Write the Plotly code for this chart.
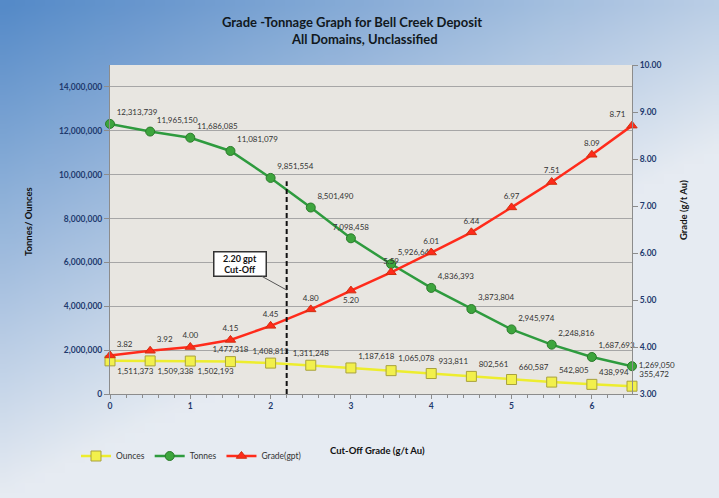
import base64
import struct
import zlib
import plotly.graph_objects as go

# ---------------- data ----------------
cutoff = [0, 0.5, 1, 1.5, 2, 2.5, 3, 3.5, 4, 4.5, 5, 5.5, 6, 6.5]
tonnes = [12313739, 11965150, 11686085, 11081079, 9851554, 8501490, 7098458,
          5926648, 4836393, 3873804, 2945974, 2248816, 1687693, 1269050]
ounces = [1511373, 1509338, 1502193, 1477318, 1408813, 1311248, 1187618,
          1065078, 933811, 802561, 660587, 542805, 438994, 355472]
grade = [3.82, 3.92, 4.00, 4.15, 4.45, 4.80, 5.20, 5.59, 6.01, 6.44, 6.97,
         7.51, 8.09, 8.71]
left_ticks = [0, 2000000, 4000000, 6000000, 8000000, 10000000, 12000000, 14000000]
right_ticks = [3, 4, 5, 6, 7, 8, 9, 10]
x_ticks = [0, 1, 2, 3, 4, 5, 6]
cutoff_value = 2.2
cutoff_line_top = 9700000
callout_y = 4740000

# ---------------- styling ----------------
W, H = 719, 498
ML, MR, MT, MB = 110, 87, 65, 104
PW, PH = W - ML - MR, H - MT - MB

def px_x(p):
    return (p - ML) / PW

def px_y(p):
    return (H - MB - p) / PH

def gradient_png(w, h):
    c0 = (85, 138, 200)
    c1 = (230, 235, 242)
    rows = []
    for j in range(h):
        row = bytearray([0])
        yn = j / (h - 1)
        for i in range(w):
            xn = i / (w - 1)
            t = min(1.0, 0.7 * xn + 1.0 * yn)
            row += bytes(int(round(c0[k] + (c1[k] - c0[k]) * t)) for k in range(3))
        rows.append(bytes(row))
    raw = b"".join(rows)

    def chunk(tag, data):
        return (struct.pack(">I", len(data)) + tag + data +
                struct.pack(">I", zlib.crc32(tag + data) & 0xffffffff))

    png = (b"\x89PNG\r\n\x1a\n" +
           chunk(b"IHDR", struct.pack(">IIBBBBB", w, h, 8, 2, 0, 0, 0)) +
           chunk(b"IDAT", zlib.compress(raw)) + chunk(b"IEND", b""))
    return "data:image/png;base64," + base64.b64encode(png).decode()

FONT = "Lato"
LABEL = dict(family=FONT, size=8, color="#333333")

tonnes_pos = ["top right"] * 14
tonnes_pos[6] = "top center"
tonnes_pos[13] = "middle right"
ounces_pos = (["bottom right"] * 3 + ["top center"] * 3 + ["top right"] * 8)
grade_pos = (["top right"] * 2 + ["top center"] * 4 + ["bottom center"] +
             ["top center"] * 6 + ["top left"])

fig = go.Figure()
fig.add_trace(go.Scatter(
    x=cutoff, y=ounces, name="Ounces", mode="lines+markers+text",
    text=[f"{v:,}" for v in ounces], textposition=ounces_pos, textfont=LABEL,
    line=dict(color="#EDED2E", width=2.5),
    marker=dict(symbol="square", size=10, color="#F2F04C",
                line=dict(color="#A9A23C", width=1)),
    cliponaxis=False))
fig.add_trace(go.Scatter(
    x=cutoff, y=tonnes, name="Tonnes", mode="lines+markers+text",
    text=[f"{v:,}" for v in tonnes], textposition=tonnes_pos, textfont=LABEL,
    line=dict(color="#2E9B3E", width=2.5),
    marker=dict(symbol="circle", size=9, color="#3DA53D",
                line=dict(color="#2A7A2A", width=1)),
    cliponaxis=False))
fig.add_trace(go.Scatter(
    x=cutoff, y=grade, name="Grade(gpt)", mode="lines+markers+text", yaxis="y2",
    text=[f"{v:.2f}" for v in grade], textposition=grade_pos, textfont=LABEL,
    line=dict(color="#FF2B1B", width=2.5),
    marker=dict(symbol="triangle-up", size=9, color="#FF2A1A",
                line=dict(color="#D03010", width=1)),
    cliponaxis=False))

tick_font = dict(family=FONT, size=8.5, color="#1F3A6E", weight="bold")

fig.update_layout(
    width=W, height=H, autosize=False,
    margin=dict(l=ML, r=MR, t=MT, b=MB),
    paper_bgcolor="#A9C0DE",
    plot_bgcolor="rgba(0,0,0,0)",
    showlegend=True,
    legend=dict(orientation="h", x=px_x(76), y=px_y(456), xanchor="left",
                yanchor="middle", bgcolor="rgba(0,0,0,0)",
                font=dict(family=FONT, size=8.5, color="#333333"),
                itemwidth=30, tracegroupgap=0,
                itemclick=False),
    xaxis=dict(range=[0, 6.5], tickvals=x_ticks, showgrid=False, zeroline=False,
               showline=True, linecolor="#8C8C8C", linewidth=1,
               ticks="outside", ticklen=4, tickcolor="#8C8C8C",
               minor=dict(dtick=0.2, ticks="outside", ticklen=3,
                          tickcolor="#8C8C8C", showgrid=False),
               tickfont=tick_font),
    yaxis=dict(range=[0, 15000000], tickvals=left_ticks, tickformat=",d",
               showgrid=True, gridcolor="#A6A6A6", gridwidth=1, zeroline=False,
               showline=True, linecolor="#8C8C8C", linewidth=1,
               ticks="outside", ticklen=5, tickcolor="#8C8C8C",
               tickfont=tick_font),
    yaxis2=dict(range=[3, 10], tickvals=right_ticks, tickformat=".2f",
                overlaying="y", side="right", showgrid=False, zeroline=False,
                showline=True, linecolor="#8C8C8C", linewidth=1,
                ticks="outside", ticklen=5, tickcolor="#8C8C8C",
                tickfont=tick_font),
    images=[dict(source=gradient_png(72, 50), xref="paper", yref="paper",
                 x=-ML / PW, y=1 + MT / PH, sizex=W / PW, sizey=H / PH,
                 xanchor="left", yanchor="top", sizing="stretch",
                 layer="below")],
    shapes=[
        dict(type="rect", xref="paper", yref="paper", x0=0, x1=1, y0=0, y1=1,
             fillcolor="#E8E6E1", line=dict(width=0), layer="below"),
        dict(type="line", xref="x", yref="y", x0=cutoff_value, x1=cutoff_value,
             y0=0, y1=cutoff_line_top, line=dict(color="#111111", width=2,
                                                  dash="5px,3px")),
    ],
)

ann = []
ann.append(dict(xref="paper", yref="paper", x=px_x(351.5), y=px_y(22),
                text="<b>Grade -Tonnage Graph for Bell Creek Deposit</b>",
                showarrow=False, font=dict(family=FONT, size=13, color="#111820"),
                xanchor="center", yanchor="middle"))
ann.append(dict(xref="paper", yref="paper", x=px_x(364.5), y=px_y(39),
                text="<b>All Domains, Unclassified</b>",
                showarrow=False, font=dict(family=FONT, size=13, color="#111820"),
                xanchor="center", yanchor="middle"))
ann.append(dict(xref="paper", yref="paper", x=px_x(28), y=px_y(222),
                text="<b>Tonnes/ Ounces</b>", textangle=-90, showarrow=False,
                font=dict(family=FONT, size=9.5, color="#111111"),
                xanchor="center", yanchor="middle"))
ann.append(dict(xref="paper", yref="paper", x=px_x(683), y=px_y(210),
                text="<b>Grade (g/t Au)</b>", textangle=-90, showarrow=False,
                font=dict(family=FONT, size=9.5, color="#111111"),
                xanchor="center", yanchor="middle"))
ann.append(dict(xref="paper", yref="paper", x=px_x(377), y=px_y(451),
                text="<b>Cut-Off Grade (g/t Au)</b>", showarrow=False,
                font=dict(family=FONT, size=9.5, color="#111111"),
                xanchor="center", yanchor="middle"))
ann.append(dict(xref="x", yref="y", x=cutoff_value, y=callout_y,
                text="<b>2.20 gpt<br>Cut-Off</b>", showarrow=True,
                arrowhead=0, arrowwidth=1, arrowcolor="#555555",
                ax=-47, ay=-26, bgcolor="white", bordercolor="#333333",
                borderwidth=1.5, borderpad=1, width=49, height=21,
                font=dict(family=FONT, size=9, color="#111111")))
fig.update_layout(annotations=ann)

fig.write_html("out.html",
               config={"displayModeBar": False},
               post_script="document.body.style.margin='0';")
